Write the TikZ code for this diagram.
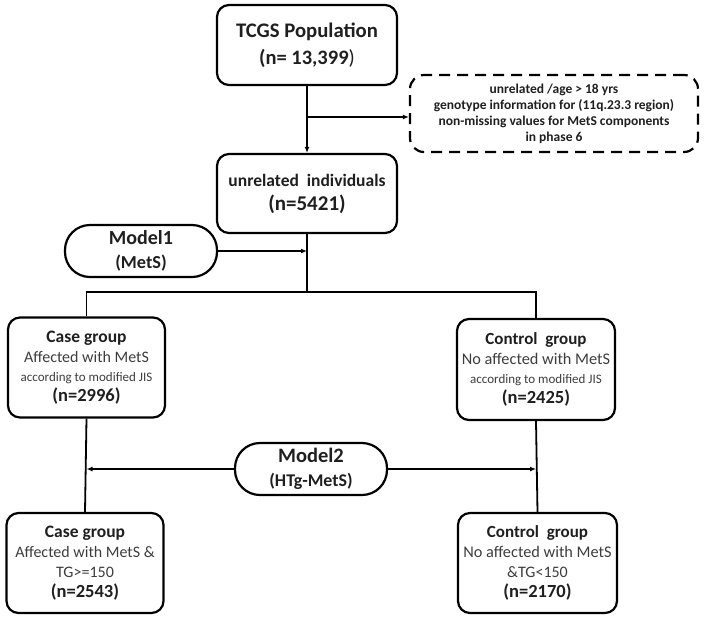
\documentclass[tikz,border=0pt]{standalone}
\usepackage{fontspec}
\setmainfont{Carlito}
\usetikzlibrary{arrows.meta}
\newcommand{\rg}{\mdseries\color{black!76}}
\tikzset{
  box/.style={draw=black, line width=2.2pt, rounded corners=12pt, align=center, inner sep=0pt, text=black!88},
  pill/.style={draw=black, line width=2.2pt, rounded corners=25pt, align=center, inner sep=0pt, minimum width=152pt, minimum height=52pt, text=black!88, font=\fontsize{18}{24.5}\selectfont},
  dbox/.style={draw=black, line width=2.2pt, dash pattern=on 11pt off 7pt, rounded corners=14pt, align=center, inner sep=0pt, text=black!88},
  conn/.style={line width=1.8pt},
  arr/.style={line width=1.4pt, -{Latex[length=6pt,width=5pt]}},
}
\begin{document}
\begin{tikzpicture}[x=1pt,y=-1pt]
\useasboundingbox (0,0) rectangle (707,622);
\node[box, minimum width=180pt, minimum height=80pt, font=\fontsize{20}{27}\selectfont] (tcgs) at (307,45)
  {\fontsize{20.7}{24}\selectfont\bfseries TCGS Population\\ \fontsize{20.5}{24}\selectfont\bfseries (n= 13,399\mdseries)};
\node[dbox, minimum width=288pt, minimum height=77pt, font=\fontsize{13.5}{16}\selectfont\bfseries] (excl) at (554,113.5)
  {unrelated /age > 18 yrs\\ genotype information for (11q.23.3 region)\\ non-missing values for MetS components\\ in phase 6};
\node[box, minimum width=180pt, minimum height=79pt, font=\fontsize{18}{24}\selectfont] (unrel) at (307,193.5)
  {\fontsize{17.5}{20}\selectfont\bfseries unrelated\ \ individuals\\ \fontsize{21}{24}\selectfont\bfseries (n=5421)};
\node[pill] (m1) at (141,251)
  {\fontsize{20}{24}\selectfont\bfseries Model1\\ \fontsize{18.3}{20}\selectfont\bfseries (MetS)};
\node[box, minimum width=157pt, minimum height=100pt, font=\fontsize{16}{19.5}\selectfont] (case1) at (86.5,367.5)
  {\fontsize{17.5}{20}\selectfont\bfseries Case group\\ \fontsize{16}{19}\selectfont\rg Affected with MetS\\ \fontsize{13}{19}\selectfont\rg according to modified JIS\\ \fontsize{18.5}{20}\selectfont\bfseries (n=2996)};
\node[box, minimum width=158pt, minimum height=101pt, font=\fontsize{16}{19.5}\selectfont] (ctrl1) at (536,369.5)
  {\fontsize{17}{20}\selectfont\bfseries Control\ \ group\\ \fontsize{16.3}{19}\selectfont\rg No affected with MetS\\ \fontsize{13}{19}\selectfont\rg according to modified JIS\\ \fontsize{18.5}{20}\selectfont\bfseries (n=2425)};
\node[pill] (m2) at (311,469)
  {\fontsize{20.5}{24}\selectfont\bfseries Model2\\ \fontsize{17.9}{20}\selectfont\bfseries (HTg-MetS)};
\node[box, minimum width=157pt, minimum height=100pt, font=\fontsize{16}{20}\selectfont] (case2) at (85,563)
  {\fontsize{17.5}{20}\selectfont\bfseries Case group\\ \fontsize{16}{19}\selectfont\rg Affected with MetS \&\\ \fontsize{16}{19}\selectfont\rg TG>=150\\ \fontsize{18.5}{20}\selectfont\bfseries (n=2543)};
\node[box, minimum width=159pt, minimum height=100pt, font=\fontsize{16}{20}\selectfont] (ctrl2) at (537.5,563)
  {\fontsize{17}{20}\selectfont\bfseries Control\ \ group\\ \fontsize{16.3}{19}\selectfont\rg No affected with MetS\\ \fontsize{16}{19}\selectfont\rg \&TG<150\\ \fontsize{18.5}{20}\selectfont\bfseries (n=2170)};
% connectors
\coordinate (b1) at (tcgs.south |- 0,117);
\draw[arr] (tcgs.south) -- (unrel.north);
\draw[arr] (b1) -- (excl.west |- b1);
\coordinate (bus) at (unrel.south |- 0,292);
\coordinate (j1) at (unrel.south |- m1.east);
\draw[conn] (unrel.south) -- (bus);
\draw[arr] (m1.east) -- (j1);
\draw[conn] (case1.north) |- (bus) -| (ctrl1.north);
\draw[conn] (case1.south) -- (case2.north);
\draw[conn] (ctrl1.south) -- (ctrl2.north);
\coordinate (j2) at (case1.south |- m2.west);
\coordinate (j3) at (ctrl1.south |- m2.east);
\draw[arr] (m2.west) -- (j2);
\draw[arr] (m2.east) -- (j3);
\end{tikzpicture}
\end{document}
